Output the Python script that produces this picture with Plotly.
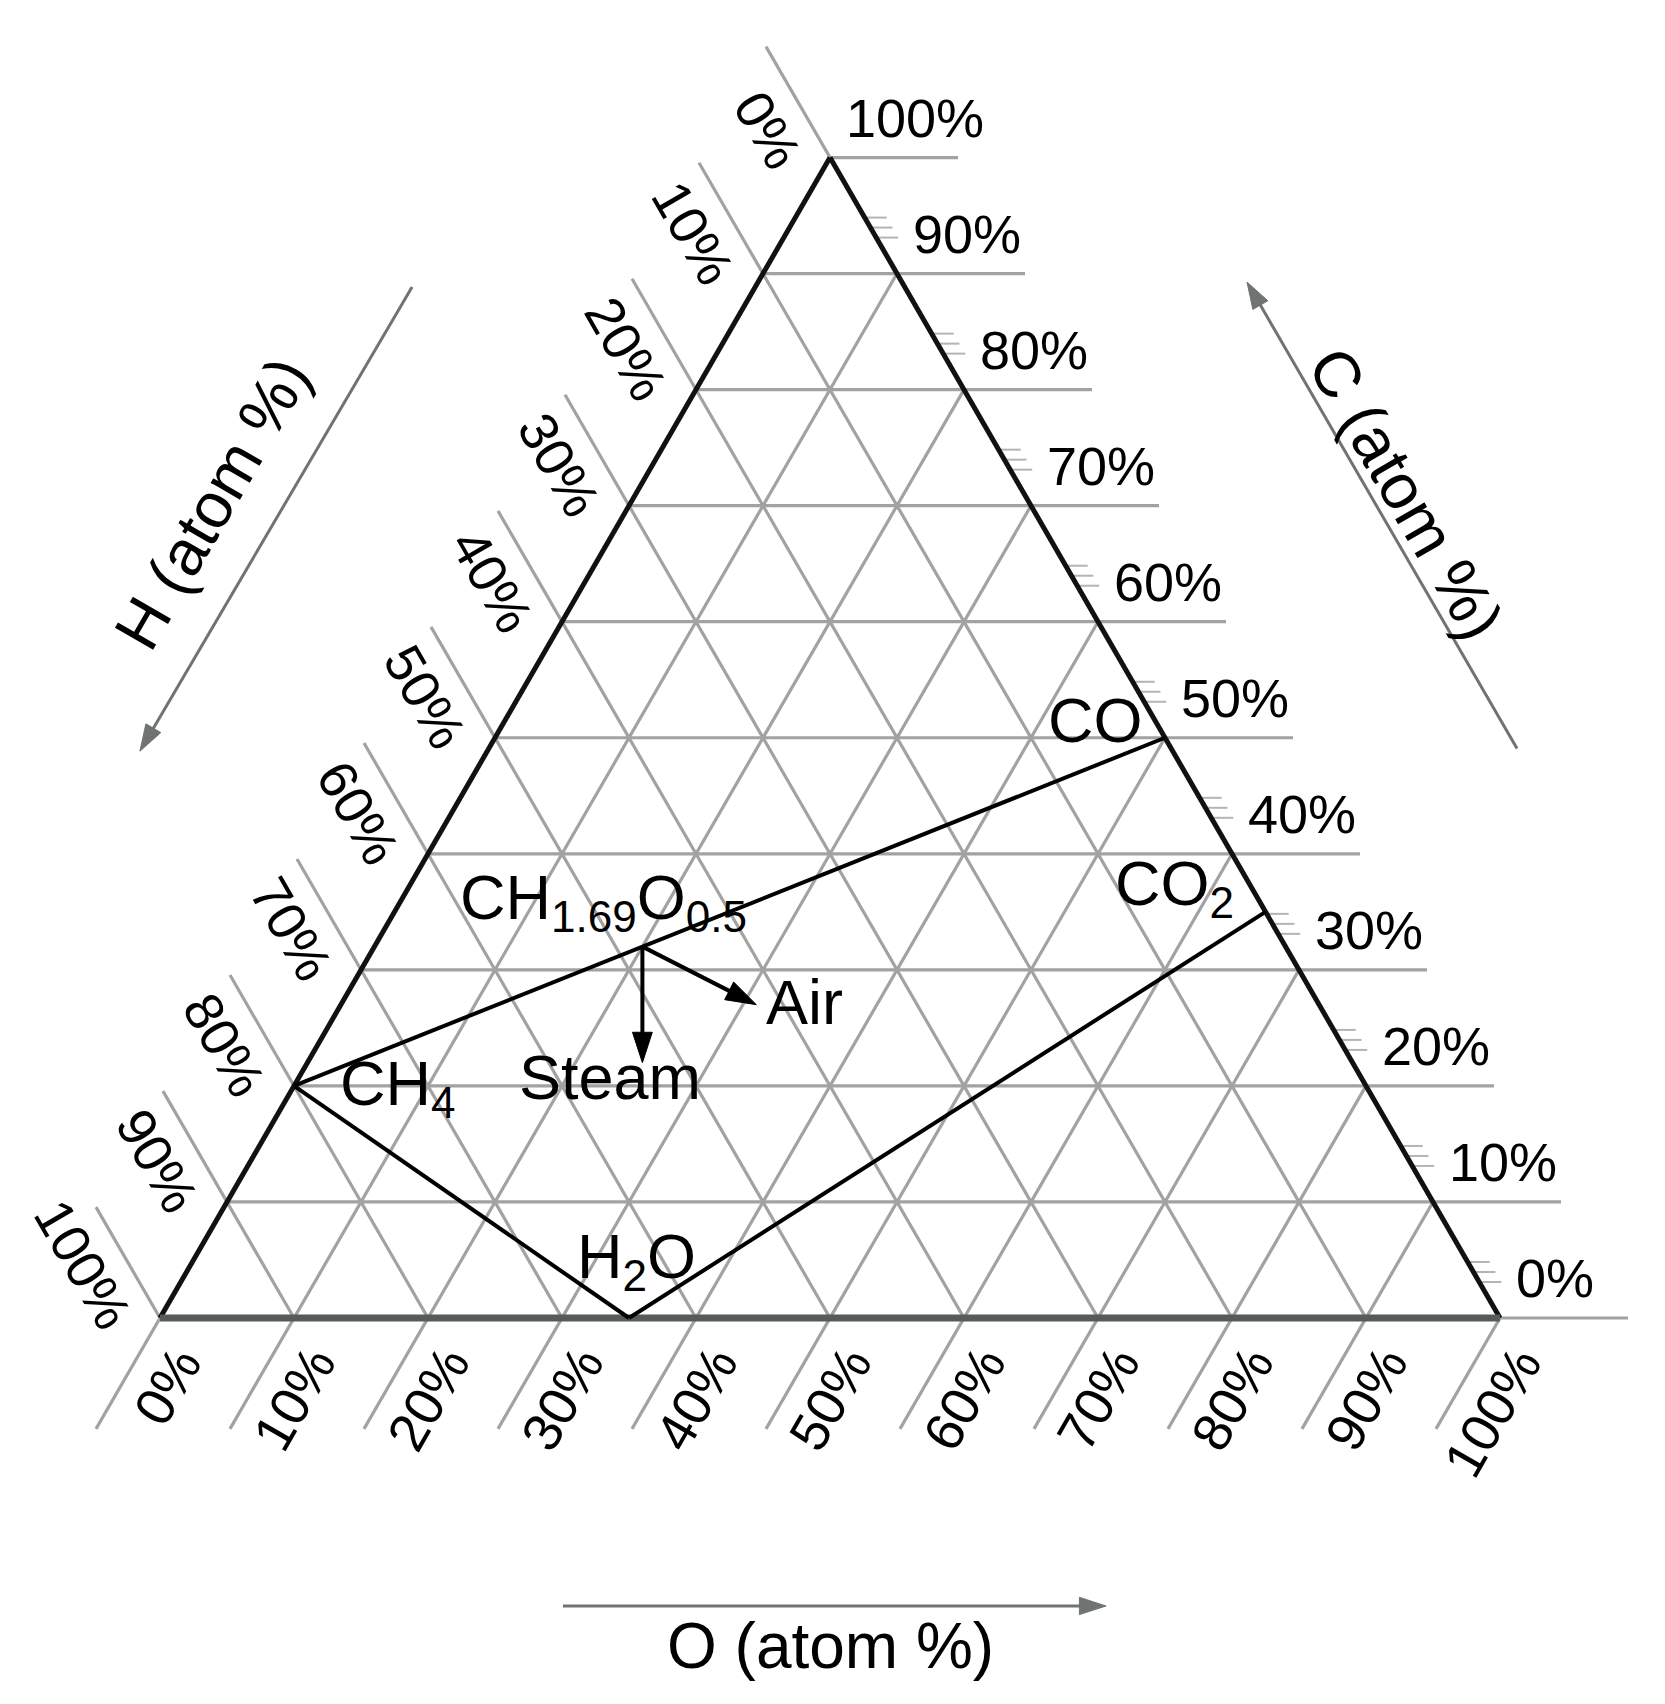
import numpy as np
import plotly.graph_objects as go

# ternary C-H-O diagram, values in atom %
TICKS = list(range(0, 101, 10))
TICK_LABELS = [f"{t}%" for t in TICKS]

SPECIES = ["CH<sub>4</sub>", "CO", "CO<sub>2</sub>", "H<sub>2</sub>O", "CH<sub>1.69</sub>O<sub>0.5</sub>"]
SPECIES_C = [20, 50, 35, 0, 32]
SPECIES_O = [0, 50, 65, 35, 20]
SPECIES_H = [80, 0, 0, 65, 48]

# lines joining species (index pairs)
LINKS = [(0, 1), (0, 3), (3, 2)]

AGENTS = ["Steam", "Air"]
AGENT_C = [22, 27]
AGENT_O = [25, 31]
AGENT_H = [53, 42]

SQ3 = np.sqrt(3)
SIDE_PX = 1340
PX = 1 / SIDE_PX
PAGE_OFFSET = 8  # default body margin of the html page
FONT = "Liberation Sans, Arial, sans-serif"
TICK_FONT = 54
GRID = "#a2a2a2"
EXT = 128 * PX


def tern(c, o):
    return o / 100 + c / 200, c / 100 * SQ3 / 2


def seg_trace(segs, color, width):
    xs, ys = [], []
    for (x0, y0), (x1, y1) in segs:
        xs += [x0, x1, None]
        ys += [y0, y1, None]
    return go.Scatter(x=xs, y=ys, mode="lines", line=dict(color=color, width=width),
                      hoverinfo="skip", showlegend=False)


def arrow_trace(tail, tip, color, width, head):
    return go.Scatter(
        x=[tail[0], tip[0]], y=[tail[1], tip[1]], mode="lines+markers",
        line=dict(color=color, width=width),
        marker=dict(symbol="arrow", size=[0, head], color=color, opacity=1,
                    angleref="previous", line=dict(width=1, color=color)),
        hoverinfo="skip", showlegend=False,
    )


fig = go.Figure()

# -------- grid lines with extensions beyond the triangle
grid = []
for v in TICKS:
    # C iso-lines (horizontal), extended to the right
    a = tern(v, 0)
    b = tern(v, 100 - v)
    grid.append((a, (b[0] + EXT, b[1])))
    # H iso-lines, extended up-left
    a = tern(0, 100 - v)
    b = tern(100 - v, 0)
    grid.append((a, (b[0] - 0.5 * EXT, b[1] + SQ3 / 2 * EXT)))
    # O iso-lines, extended down-left
    a = tern(100 - v, v)
    b = tern(0, v)
    grid.append((a, (b[0] - 0.5 * EXT, b[1] - SQ3 / 2 * EXT)))
fig.add_trace(seg_trace(grid, GRID, 3.2))

# small comb ticks next to the C labels
comb = []
for v in TICKS[:-1]:
    ex, ey = tern(v, 100 - v)
    for dy in (36, 46, 56):
        x0 = ex - dy * PX / SQ3
        comb.append(((x0, ey + dy * PX), (x0 + 22 * PX, ey + dy * PX)))
fig.add_trace(seg_trace(comb, "#b4b4b4", 2))

# -------- triangle edges
fig.add_trace(seg_trace([(tern(0, 0), tern(100, 0)), (tern(100, 0), tern(0, 100))], "#111111", 5))
fig.add_trace(seg_trace([(tern(0, 0), tern(0, 100))], "#555b5a", 7))

# -------- species lines
pts = [tern(c, o) for c, o in zip(SPECIES_C, SPECIES_O)]
fig.add_trace(seg_trace([(pts[i], pts[j]) for i, j in LINKS], "black", 4))

annotations = []

# -------- tick labels
for v, lab in zip(TICKS, TICK_LABELS):
    w = TICK_FONT * (0.556 * (len(lab) - 1) + 0.889)
    along = (16 + w / 2) * PX
    perp = 40 * PX
    sides = [
        (tern(v, 100 - v), (1, 0), (0, 1), 0),
        (tern(100 - v, 0), (-0.5, SQ3 / 2), (-SQ3 / 2, -0.5), 60),
        (tern(0, v), (-0.5, -SQ3 / 2), (SQ3 / 2, -0.5), -60),
    ]
    for (ex, ey), d, p, ang in sides:
        annotations.append(dict(
            x=ex + d[0] * along + p[0] * perp, y=ey + d[1] * along + p[1] * perp,
            text=lab, showarrow=False, textangle=ang, xanchor="center", yanchor="middle",
            font=dict(family=FONT, size=TICK_FONT, color="black"),
        ))

# -------- species labels
label_pos = {
    0: dict(xanchor="left", xshift=44, yshift=-2),
    1: dict(xanchor="right", xshift=-20, yshift=18),
    2: dict(xanchor="right", xshift=-30, yshift=24),
    3: dict(xanchor="center", xshift=7, yshift=58),
    4: dict(xanchor="center", xshift=-39, yshift=45),
}
for i, name in enumerate(SPECIES):
    x, y = pts[i]
    annotations.append(dict(x=x, y=y, text=name, showarrow=False, yanchor="middle",
                            font=dict(family=FONT, size=63, color="black"), **label_pos[i]))

# -------- steam / air arrows
bx, by = pts[4]
agent_pos = [dict(xanchor="center", xshift=-32, yshift=-14), dict(xanchor="left", xshift=8, yshift=3)]
for name, c, o, pos in zip(AGENTS, AGENT_C, AGENT_O, agent_pos):
    tx, ty = tern(c, o)
    fig.add_trace(arrow_trace((bx, by), (tx, ty), "black", 4, 32))
    annotations.append(dict(x=tx, y=ty, text=name, showarrow=False, yanchor="middle",
                            font=dict(family=FONT, size=63, color="black"), **pos))

# -------- axis titles with arrows
titles = [
    ("H (atom %)", (0.0390, 0.6085), -60, (0.1881, 0.7694), (-0.0150, 0.4230)),
    ("C (atom %)", (0.9300, 0.6150), 60, (1.0127, 0.4250), (0.8112, 0.7731)),
    ("O (atom %)", (0.5007, -0.2448), 0, (0.3007, -0.2149), (0.7060, -0.2149)),
]
for text, (tx, ty), ang, tail, tip in titles:
    annotations.append(dict(x=tx, y=ty, text=text, showarrow=False, textangle=ang,
                            xanchor="center", yanchor="middle",
                            font=dict(family=FONT, size=64, color="black")))
    fig.add_trace(arrow_trace(tail, tip, "#6f7471", 3, 28))

x0_px = 160 - PAGE_OFFSET
y0_px = 1318 - PAGE_OFFSET
fig.update_layout(
    width=1665,
    height=1704,
    margin=dict(l=0, r=0, t=0, b=0),
    plot_bgcolor="white",
    paper_bgcolor="white",
    xaxis=dict(range=[-x0_px * PX, (1665 - x0_px) * PX], visible=False, fixedrange=True),
    yaxis=dict(range=[-(1704 - y0_px) * PX, y0_px * PX], visible=False, fixedrange=True),
    annotations=annotations,
)

fig.write_html("out.html")
